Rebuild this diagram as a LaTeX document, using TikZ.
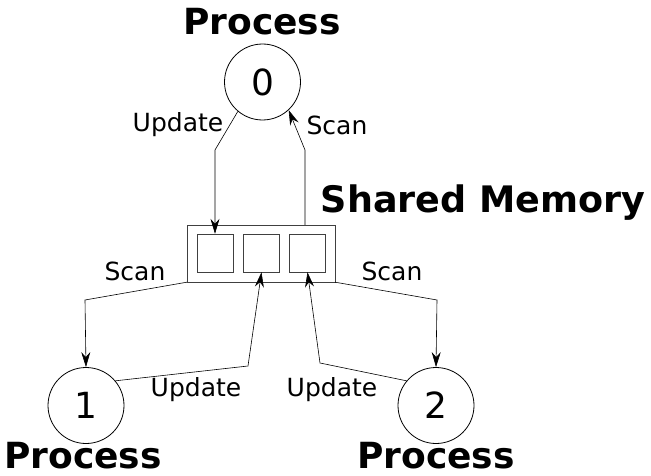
\documentclass[tikz,border=0pt]{standalone}
\usepackage{fontspec}
\setmainfont{DejaVu Sans}
\usetikzlibrary{arrows.meta, calc, positioning}

\begin{document}
\begin{tikzpicture}[
  x=1pt, y=1pt,
  >={Stealth[length=15pt, width=9pt, inset=5pt]},
  proc/.style={circle, draw, thick, minimum size=76pt, inner sep=0pt,
    font=\fontsize{36}{36}\selectfont},
  title/.style={anchor=base, inner sep=0pt, font=\bfseries\fontsize{36}{36}\selectfont},
  cell/.style={draw, black!75, minimum width=36pt, minimum height=38pt, inner sep=0pt},
  lab/.style={inner sep=0pt, font=\fontsize{25}{25}\selectfont},
  link/.style={->, semithick},
]
  \useasboundingbox (0,0) rectangle (651,475);

  % processes
  \node[proc] (p0) at (262.5,393) {0};
  \node[proc] (p1) at (86,69.5) {1};
  \node[proc] (p2) at (436,69.5) {2};
  \node[title] (t0) at (262,440) {Process};
  \node[title] (t1) at (83,7) {Process};
  \node[title] (t2) at (436,7) {Process};

  % shared memory
  \node[draw, black!75, minimum width=148pt, minimum height=57pt] (mem) at (261,221.5) {};
  \foreach \idx/\xx in {1/215, 2/261.5, 3/307.5}
    \node[cell] (c\idx) at (\xx,222) {};
  \node[title, font=\bfseries\fontsize{36.5}{36.5}\selectfont] (tm) at (483,263) {Shared Memory};

  % scans and updates
  \draw[link] (p0.230) -- (215,325) -- (c1.north);
  \draw[link] (mem.north -| 305,0) -- (305,325) -- (p0.-47);
  \draw[link] (mem.south west) -- (85,175) -- (p1.north);
  \draw[link] (mem.south east) -- (437,175) -- (p2.north);
  \draw[link] (p1.40) -- (248,109) -- (c2.south);
  \draw[link] (p2.140) -- (320,112) -- (c3.south);

  \node[lab] (u0) at (178,350) {Update};
  \node[lab] (s0) at (337,350) {Scan};
  \node[lab] (s1) at (135,204) {Scan};
  \node[lab] (s2) at (392,204) {Scan};
  \node[lab] (u1) at (196,85) {Update};
  \node[lab] (u2) at (332,85) {Update};
\end{tikzpicture}
\end{document}
